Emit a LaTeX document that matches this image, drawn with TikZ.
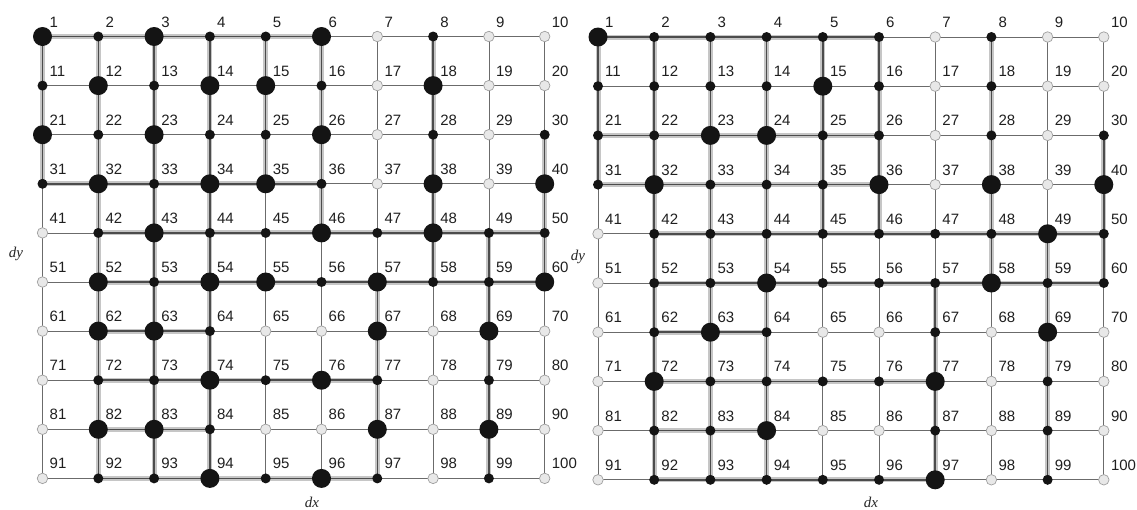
\documentclass[tikz,border=0pt]{standalone}
\usepackage{fontspec}
\setmainfont{Liberation Sans}
\newfontfamily\axisfont{Liberation Serif}
\usetikzlibrary{calc,backgrounds}

\tikzset{
  dotB/.style={circle, fill=black!92, inner sep=0pt, minimum size=19pt},
  dotS/.style={circle, fill=black!92, inner sep=0pt, minimum size=10pt},
  dotO/.style={circle, fill=gray!18, draw=gray!75, line width=0.7pt, inner sep=0pt, minimum size=10.5pt},
  thinedge/.style={draw=black!58, line width=0.8pt},
  thickedge/.style={draw=black!70, line width=1.5pt, preaction={draw=gray!45, line width=5pt}},
  numlabel/.style={anchor=base west, inner sep=0pt, text=black!88, font=\fontsize{15}{18}\selectfont},
  axislabel/.style={inner sep=0pt, text=black!85, font=\fontsize{15}{18}\axisfont\itshape}
}

\begin{document}
\begin{tikzpicture}[x=1pt,y=-1pt]
\useasboundingbox (0,0) rectangle (1137,509);

% left grid
\foreach \t [count=\n] in {B,S,B,S,S,B,O,S,O,O,
                           S,B,S,B,B,S,O,B,O,O,
                           B,S,B,S,S,B,O,S,O,S,
                           S,B,S,B,B,S,O,B,O,B,
                           O,S,B,S,S,B,S,B,S,S,
                           O,B,S,B,B,S,B,S,S,B,
                           O,B,B,S,O,O,B,O,B,O,
                           O,S,S,B,S,B,S,O,S,O,
                           O,B,B,S,O,O,B,O,B,O,
                           O,S,S,B,S,B,S,O,S,O} {
  \pgfmathsetmacro\cx{42.5+55.8*mod(\n-1,10)}
  \pgfmathsetmacro\cy{36.5+49.1*int((\n-1)/10)}
  \node[dot\t] (L\n) at (\cx,\cy) {};
  \node[numlabel] (L\n lab) at ($(L\n)+(7,-9.5)$) {\n};
}
\begin{pgfonlayer}{background}
\foreach \n in {1,...,100} {
  \pgfmathtruncatemacro\c{mod(\n,10)}
  \ifnum\c>0 \pgfmathtruncatemacro\m{\n+1}\draw[thinedge] (L\n.center) -- (L\m.center);\fi
  \ifnum\n<91 \pgfmathtruncatemacro\m{\n+10}\draw[thinedge] (L\n.center) -- (L\m.center);\fi
}
\foreach \a/\b in {1/6,31/36,42/50,52/60,62/64,72/77,82/84,92/97,
                   1/31,2/92,3/93,4/94,5/35,6/46,57/97,8/58,49/99,30/60}
  \draw[thickedge] (L\a.center) -- (L\b.center);
\end{pgfonlayer}
\node[axislabel] (Ldy) at (16,254) {dy};
\node[axislabel] (Ldx) at (312,502) {dx};

% right grid
\foreach \t [count=\n] in {B,S,S,S,S,S,O,S,O,O,
                           S,S,S,S,B,S,O,S,O,O,
                           S,S,B,B,S,S,O,S,O,S,
                           S,B,S,S,S,B,O,B,O,B,
                           O,S,S,S,S,S,S,S,B,S,
                           O,S,S,B,S,S,S,B,S,S,
                           O,S,B,S,O,O,S,O,B,O,
                           O,B,S,S,S,S,B,O,S,O,
                           O,S,S,B,O,O,S,O,S,O,
                           O,S,S,S,S,S,B,O,S,O} {
  \pgfmathsetmacro\cx{598+56.2*mod(\n-1,10)}
  \pgfmathsetmacro\cy{37+49.2*int((\n-1)/10)}
  \node[dot\t] (R\n) at (\cx,\cy) {};
  \node[numlabel] (R\n lab) at ($(R\n)+(7,-9.5)$) {\n};
}
\begin{pgfonlayer}{background}
\foreach \n in {1,...,100} {
  \pgfmathtruncatemacro\c{mod(\n,10)}
  \ifnum\c>0 \pgfmathtruncatemacro\m{\n+1}\draw[thinedge] (R\n.center) -- (R\m.center);\fi
  \ifnum\n<91 \pgfmathtruncatemacro\m{\n+10}\draw[thinedge] (R\n.center) -- (R\m.center);\fi
}
\foreach \a/\b in {1/6,21/26,31/36,42/50,52/60,62/64,72/77,82/84,92/97,
                   1/31,2/92,3/93,4/94,5/45,6/46,57/97,8/58,49/99,30/60}
  \draw[thickedge] (R\a.center) -- (R\b.center);
\end{pgfonlayer}
\node[axislabel] (Rdy) at (578,257) {dy};
\node[axislabel] (Rdx) at (871,502) {dx};
\end{tikzpicture}
\end{document}
